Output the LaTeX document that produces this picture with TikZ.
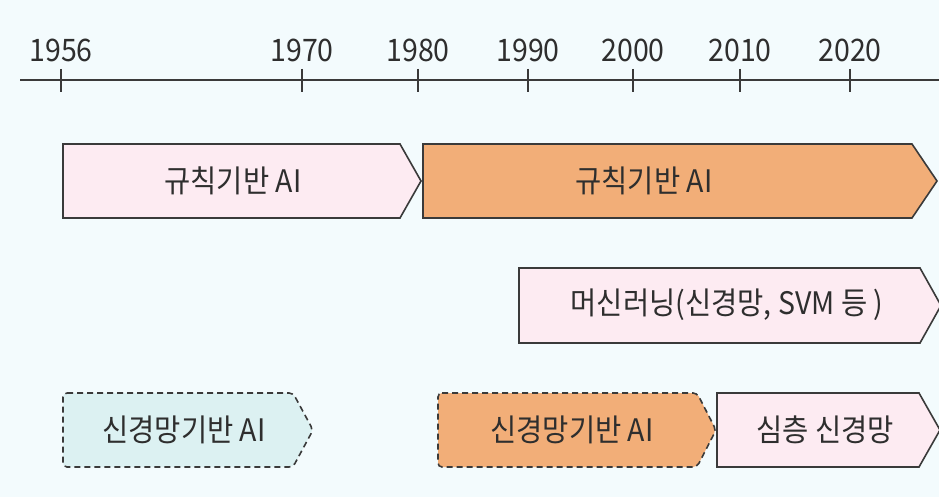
\documentclass[tikz,border=0pt]{standalone}
\usepackage{fontspec}
\setmainfont{Noto Sans CJK KR}
\newfontfamily\lblfont[FakeStretch=0.92]{Noto Sans CJK KR}
\definecolor{bgc}{HTML}{F3FBFD}
\definecolor{pinkc}{HTML}{FDEBF2}
\definecolor{orangec}{HTML}{F2AE78}
\definecolor{cyanc}{HTML}{DCF1F2}
\definecolor{linec}{HTML}{3A3A3A}
\definecolor{textc}{HTML}{2E2E2E}
\tikzset{
  box/.style={draw=linec, line width=1.6pt, line join=miter},
  dbox/.style={draw=linec, line width=1.6pt, dash pattern=on 6pt off 4pt, rounded corners=4pt},
  lbl/.style={font=\lblfont\fontsize{31}{34}\selectfont, text=textc, inner sep=0pt},
  yr/.style={font=\lblfont\fontsize{31}{34}\selectfont, text=textc, inner sep=0pt},
  axisline/.style={draw=linec, line width=1.4pt},
}
\begin{document}
\begin{tikzpicture}[x=1pt,y=-1pt]
\fill[bgc] (0,0) rectangle (939,497);
\useasboundingbox (0,0) rectangle (939,497);
% axis
\coordinate (axL) at (20,80);
\coordinate (axR) at (939,80);
\draw[axisline] (axL) -- (axR);
\foreach \x/\y in {61/1956,302/1970,418/1980,528/1990,633/2000,740/2010,850/2020}{
  \draw[axisline] (\x,69) -- (\x,92);
  \node[yr] (y\y) at (\x,50) {\y};
}
% row 1
\draw[box, fill=pinkc] (63,144) -- (400,144) -- (421,181) -- (400,218) -- (63,218) -- cycle;
\node[lbl] (r1a) at (233,181) {규칙기반 AI};
\draw[box, fill=orangec] (423,144) -- (912,144) -- (937,181) -- (912,218) -- (423,218) -- cycle;
\node[lbl] (r1b) at (644,181) {규칙기반 AI};
% row 2
\draw[box, fill=pinkc] (519,268) -- (920,268) -- (941,305.5) -- (920,343) -- (519,343) -- cycle;
\node[lbl] (r2) at (727,305) {머신러닝(신경망, SVM 등 )};
% row 3
\draw[dbox, fill=cyanc] (63,393) -- (293,393) -- (313,430) -- (293,467) -- (63,467) -- cycle;
\node[lbl] (r3a) at (184,430) {신경망기반 AI};
\draw[dbox, fill=orangec] (438,393) -- (697,393) -- (716,430) -- (697,467) -- (438,467) -- cycle;
\node[lbl] (r3b) at (572,430) {신경망기반 AI};
\draw[box, fill=pinkc] (717,393) -- (919,393) -- (940,430) -- (919,467) -- (717,467) -- cycle;
\node[lbl] (r3c) at (825,430) {심층 신경망};
\end{tikzpicture}
\end{document}
